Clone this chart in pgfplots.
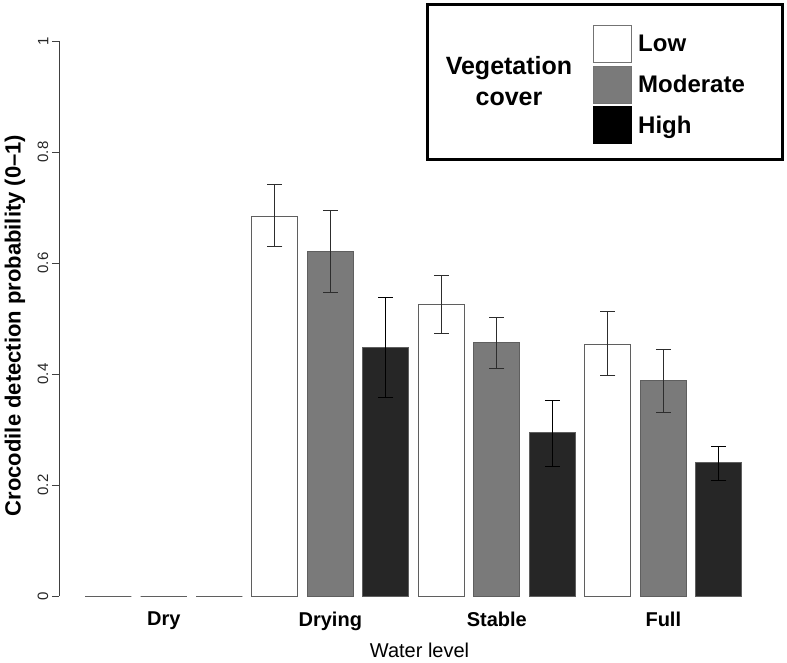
\documentclass[border=0pt]{standalone}
\usepackage{fontspec}
\setmainfont{Liberation Sans}
\usepackage{pgfplots}
\pgfplotsset{compat=1.18}
\usepackage{pgfplotstable}

\definecolor{lowfill}{RGB}{255,255,255}
\definecolor{modfill}{RGB}{122,122,122}
\definecolor{highfill}{RGB}{38,38,38}
\definecolor{barline}{RGB}{95,95,95}
\definecolor{errline}{RGB}{45,45,45}

% group: 1 = Drying, 2 = Stable, 3 = Full; v = estimate, lo/hi = error bar ends
\pgfplotstableread{
g v lo hi
1 0.684 0.629 0.741
2 0.526 0.473 0.578
3 0.454 0.398 0.513
}\lowveg
\pgfplotstableread{
g v lo hi
1 0.620 0.546 0.694
2 0.457 0.410 0.502
3 0.388 0.331 0.445
}\modveg
\pgfplotstableread{
g v lo hi
1 0.448 0.357 0.538
2 0.294 0.233 0.353
3 0.240 0.208 0.270
}\highveg

\begin{document}
\begin{tikzpicture}
\useasboundingbox (0,0) rectangle (787pt,-662pt);
\begin{axis}[
    at={(58.9pt,-596pt)}, anchor=south west,
    scale only axis, width=709.3pt, height=555pt,
    xmin=-0.63, xmax=3.63, ymin=0, ymax=1,
    clip=false,
    ybar, bar width=46.25pt,
    axis y line*=left, axis x line*=bottom,
    x axis line style={draw=none},
    y axis line style={black!75, line width=0.8pt},
    tick align=outside, major tick length=7pt,
    xtick={0,1,2,3}, xticklabels={Dry,Drying,Stable,Full},
    xtick style={draw=none},
    xticklabel style={font=\fontsize{20}{24}\selectfont\bfseries, anchor=north, yshift=-5pt},
    ytick={0,0.2,0.4,0.6,0.8,1},
    yticklabels={0,0.2,0.4,0.6,0.8,1},
    ytick style={black!75, line width=0.8pt},
    yticklabel style={rotate=90, anchor=south, font=\fontsize{15}{17}\selectfont, text=black!85},
    /pgf/number format/assume math mode=true,
    xlabel={Water level},
    ylabel={Crocodile detection probability (0--1)},
    every axis x label/.style={at={([xshift=6pt,yshift=-54pt]axis description cs:0.5,0)}, anchor=center, font=\fontsize{20}{24}\selectfont},
    every axis y label/.style={at={([xshift=-44pt,yshift=-7pt]axis description cs:0,0.5)}, rotate=90, anchor=center, font=\fontsize{22}{26}\selectfont\bfseries},
    legend style={at={(axis description cs:0.7530,1.0288)}, anchor=north west,
        draw=none, fill=none, inner sep=0pt, row sep=2.5pt,
        nodes={inner sep=0pt},
        font=\fontsize{24}{28}\selectfont\bfseries,
        /tikz/every odd column/.append style={column sep=6pt}},
    legend cell align=left,
    legend image code/.code={\draw[#1] (0pt,-18.5pt) rectangle (38pt,18.5pt);},
    error bars/error bar style={errline, line width=1pt},
    error bars/error mark options={errline, line width=1pt, mark size=7.5pt, rotate=90},
]
% Dry: all three estimates are zero, no error bars
\addplot[bar shift=-55.5pt, fill=lowfill, draw=barline, line width=1pt, forget plot] coordinates {(0,0)};
\addplot[bar shift=0pt, fill=modfill, draw=barline, line width=1pt, forget plot] coordinates {(0,0)};
\addplot[bar shift=55.5pt, fill=highfill, draw=barline, line width=1pt, forget plot] coordinates {(0,0)};

\addplot[bar shift=-55.5pt, fill=lowfill, draw=barline, line width=1pt, forget plot,
    error bars/.cd, y dir=both, y explicit]
    table[x=g, y=v, y error plus expr=\thisrow{hi}-\thisrow{v}, y error minus expr=\thisrow{v}-\thisrow{lo}] {\lowveg};
\addplot[bar shift=0pt, fill=modfill, draw=barline, line width=1pt, forget plot,
    error bars/.cd, y dir=both, y explicit]
    table[x=g, y=v, y error plus expr=\thisrow{hi}-\thisrow{v}, y error minus expr=\thisrow{v}-\thisrow{lo}] {\modveg};
\addplot[bar shift=55.5pt, fill=highfill, draw=barline, line width=1pt, forget plot,
    error bars/.cd, y dir=both, y explicit,
    error bar style={black, line width=1pt},
    error mark options={black, line width=1pt, mark size=7.5pt, rotate=90}]
    table[x=g, y=v, y error plus expr=\thisrow{hi}-\thisrow{v}, y error minus expr=\thisrow{v}-\thisrow{lo}] {\highveg};

\addlegendimage{fill=white, draw=black!55, line width=1pt}
\addlegendentry{Low}
\addlegendimage{fill=modfill, draw=black!55, line width=1pt}
\addlegendentry{Moderate}
\addlegendimage{fill=black, draw=black, line width=1pt}
\addlegendentry{High}
\end{axis}
\node[align=center, font=\fontsize{25}{31}\selectfont\bfseries] at (509pt,-81.5pt) {Vegetation\\cover};
\draw[line width=3pt] (427pt,-4pt) rectangle (782pt,-159pt);
\end{tikzpicture}
\end{document}
